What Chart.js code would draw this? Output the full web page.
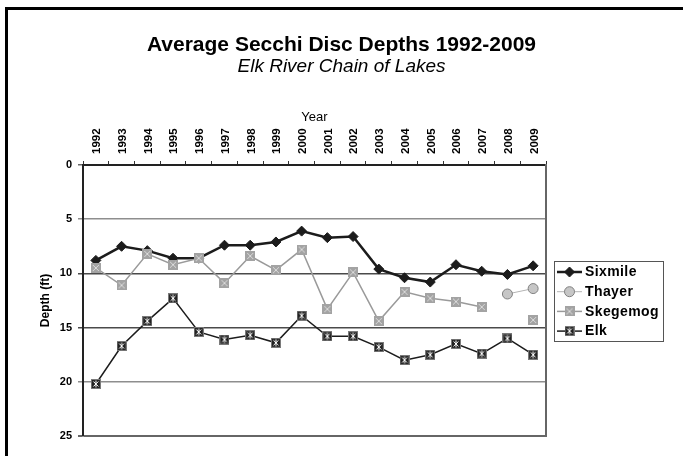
<!DOCTYPE html>
<html><head><meta charset="utf-8">
<script src="https://cdn.jsdelivr.net/npm/chart.js@4/dist/chart.umd.min.js"></script>
<style>
html,body{margin:0;padding:0;background:#fff;}
#wrap{position:relative;width:683px;height:456px;overflow:hidden;background:#fff;}
#frame{position:absolute;left:5px;top:7px;width:800px;height:600px;border-left:3px solid #000;border-top:3px solid #000;pointer-events:none;}
canvas#c{position:absolute;left:0;top:0;}
</style></head>
<body><div id="wrap"><canvas id="c" width="683" height="456" style="width:683px;height:456px"></canvas><div id="frame"></div></div>
<script>
const years = ['1992','1993','1994','1995','1996','1997','1998','1999','2000','2001','2002','2003','2004','2005','2006','2007','2008','2009'];
const sixmile   = [8.8, 7.5, 7.9, 8.6, 8.6, 7.4, 7.4, 7.1, 6.1, 6.7, 6.6, 9.6, 10.4, 10.8, 9.2, 9.8, 10.1, 9.3];
const thayer    = [null,null,null,null,null,null,null,null,null,null,null,null,null,null,null,null, 11.9, 11.4];
const skegemog  = [9.5, 11.1, 8.2, 9.2, 8.6, 10.9, 8.4, 9.7, 7.8, 13.3, 9.9, 14.4, 11.7, 12.3, 12.6, 13.1, null, 14.3];
const elk       = [20.2, 16.7, 14.4, 12.3, 15.4, 16.1, 15.7, 16.4, 13.9, 15.8, 15.8, 16.8, 18.0, 17.5, 16.5, 17.4, 16.0, 17.5];
const seriesNames = ['Sixmile','Thayer','Skegemog','Elk'];
const yTicks = [0,5,10,15,20,25];

const FONT = 'Arial, "Liberation Sans", sans-serif';

function mk(size, draw){const c=document.createElement('canvas');c.width=size;c.height=size;draw(c.getContext('2d'),size);return c;}
const skegMarker = mk(10,(g,s)=>{g.fillStyle='#a3a3a3';g.fillRect(0,0,s,s);g.strokeStyle='#dcdcdc';g.lineWidth=1;g.beginPath();g.moveTo(2,2);g.lineTo(8,8);g.moveTo(8,2);g.lineTo(2,8);g.stroke();});
const elkMarker = mk(10,(g,s)=>{g.fillStyle='#7a7a7a';g.fillRect(0,0,s,s);g.fillStyle='#222';g.fillRect(1,1,8,8);g.strokeStyle='#fff';g.lineWidth=1;g.beginPath();g.moveTo(2.5,2.5);g.lineTo(7.5,7.5);g.moveTo(7.5,2.5);g.lineTo(2.5,7.5);g.moveTo(5,1.5);g.lineTo(5,8.5);g.stroke();});

const datasets = [
  {label:seriesNames[0], data:sixmile, borderColor:'#1c1c1c', borderWidth:2.5, pointStyle:'rectRot', pointRadius:5, pointBackgroundColor:'#1c1c1c', pointBorderColor:'#1c1c1c', pointBorderWidth:1, order:4},
  {label:seriesNames[1], data:thayer, borderColor:'#b4b4b4', borderWidth:1, pointStyle:'circle', pointRadius:5, pointBackgroundColor:'#c6c6c6', pointBorderColor:'#808080', pointBorderWidth:1, order:3},
  {label:seriesNames[2], data:skegemog, borderColor:'#9a9a9a', borderWidth:1.5, pointStyle:skegMarker, pointRadius:5, order:2},
  {label:seriesNames[3], data:elk, borderColor:'#1c1c1c', borderWidth:1.5, pointStyle:elkMarker, pointRadius:5, order:1}
];

const legendPlugin = {
  id:'boxedLegend',
  afterDraw(chart){
    const {ctx} = chart;
    ctx.save();
    const lx=554, ly=261, lw=109, lh=80;
    ctx.fillStyle='#fff'; ctx.fillRect(lx,ly,lw,lh);
    ctx.strokeStyle='#555'; ctx.lineWidth=1; ctx.strokeRect(lx+0.5,ly+0.5,lw,lh);
    ctx.font='bold 14px '+FONT; ctx.textBaseline='middle'; ctx.textAlign='left';
    try{ctx.letterSpacing='0.4px';}catch(e){}
    chart.data.datasets.forEach((ds,i)=>{
      const y = ly + 11 + i*19.7;
      ctx.strokeStyle=ds.borderColor; ctx.lineWidth=ds.borderWidth;
      ctx.beginPath(); ctx.moveTo(557,y); ctx.lineTo(582,y); ctx.stroke();
      const cx=569.5;
      if (ds.pointStyle instanceof HTMLCanvasElement){
        ctx.drawImage(ds.pointStyle, cx-ds.pointStyle.width/2, y-ds.pointStyle.height/2);
      } else {
        ctx.fillStyle=ds.pointBackgroundColor; ctx.strokeStyle=ds.pointBorderColor;
        ctx.lineWidth=ds.pointBorderWidth;
        Chart.helpers.drawPoint(ctx,{pointStyle:ds.pointStyle,rotation:0,radius:ds.pointRadius,borderWidth:ds.pointBorderWidth},cx,y);
      }
      ctx.fillStyle='#000';
      ctx.fillText(ds.label, 585, y+0.5);
    });
    ctx.restore();
  }
};

new Chart(document.getElementById('c'), {
  type:'line',
  data:{labels:years, datasets},
  options:{
    responsive:false, animation:false, devicePixelRatio:1,
    layout:{padding:{left:0,right:0,top:0,bottom:20}},
    plugins:{
      legend:{display:false}, tooltip:{enabled:false},
      title:{display:true, text:'Average Secchi Disc Depths 1992-2009', color:'#000', font:{family:FONT, size:21, weight:'bold', lineHeight:1.2}, padding:{top:32.4,bottom:0}},
      subtitle:{display:true, text:'Elk River Chain of Lakes', color:'#000', font:{family:FONT, size:19, style:'italic', weight:'normal', lineHeight:1.0}, padding:{top:0,bottom:0}}
    },
    elements:{line:{tension:0}},
    scales:{
      x:{
        type:'category', position:'top', offset:true,
        grid:{offset:true, drawOnChartArea:false, drawTicks:true, tickLength:4, color:'#333', lineWidth:1},
        border:{display:true, color:'#222', width:2},
        ticks:{autoSkip:false, minRotation:90, maxRotation:90, padding:7, labelOffset:15, color:'#000', font:{family:FONT, size:11.5, weight:'bold'}},
        title:{display:true, text:'Year', color:'#000', font:{family:FONT, size:13, weight:'normal', lineHeight:1.2}, padding:{top:32.6,bottom:0}},
        afterFit(s){ s.height = 88.4; }
      },
      y:{
        reverse:true, min:0, max:25,
        afterBuildTicks(s){ s.ticks = yTicks.map(v=>({value:v})); },
        grid:{
          drawTicks:true, tickLength:5,
          color(c){ const v=c.tick&&c.tick.value; if(v===5||v===20) return '#8e8e8e'; if(v===10||v===15) return '#4a4a4a'; return '#666'; },
          lineWidth(c){ const v=c.tick&&c.tick.value; return (v===25)?2:1.5; }
        },
        border:{display:true, color:'#222', width:2},
        ticks:{padding:6, color:'#000', font:{family:FONT, size:11, weight:'bold'}},
        title:{display:true, text:'Depth (ft)', color:'#000', font:{family:FONT, size:12, weight:'bold', lineHeight:1.2}, padding:{top:38,bottom:0}},
        afterFit(s){ s.width = 83; }
      },
      yRight:{
        type:'linear', position:'right', display:true, min:0, max:25, reverse:true,
        grid:{drawOnChartArea:false, drawTicks:false},
        border:{display:true, color:'#666', width:2},
        ticks:{display:false},
        afterFit(s){ s.width = 137; }
      }
    }
  },
  plugins:[legendPlugin]
});
</script>
</body></html>
